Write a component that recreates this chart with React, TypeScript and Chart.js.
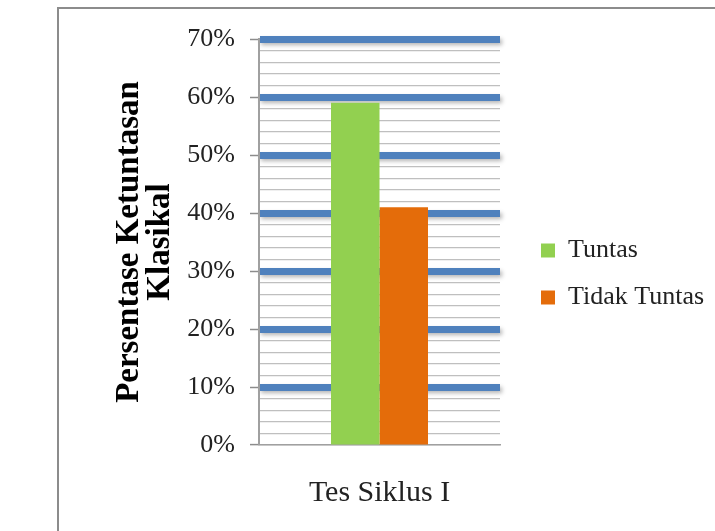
import React, { useEffect, useRef } from 'react';
import { Chart, registerables } from 'chart.js';

Chart.register(...registerables);

const categories = ['Tes Siklus I'];
const seriesNames = ['Tuntas', 'Tidak Tuntas'];
const tuntasValues = [59];
const tidakTuntasValues = [41];
const yMajorTicks = [0, 10, 20, 30, 40, 50, 60, 70];

const FONT = "'Liberation Serif', 'Times New Roman', serif";

export default function App() {
  const ref = useRef<HTMLCanvasElement | null>(null);

  useEffect(() => {
    document.body.style.margin = '0';
    const canvas = ref.current;
    if (!canvas) return;
    let chart: any = null;
    let cancelled = false;

    const shadowPlugin = {
      id: 'gridShadow',
      beforeDraw(c: any) {
        const y = c.scales.y;
        const { left, right } = c.chartArea;
        const ctx = c.ctx;
        ctx.save();
        ctx.filter = 'blur(2px)';
        ctx.strokeStyle = 'rgba(0,0,0,0.30)';
        ctx.lineWidth = 6;
        yMajorTicks.filter((v) => v > 0).forEach((v) => {
          const p = y.getPixelForValue(v) + 3;
          ctx.beginPath();
          ctx.moveTo(left + 2, p);
          ctx.lineTo(right + 2, p);
          ctx.stroke();
        });
        ctx.restore();
      },
    };

    const legendPlace = {
      id: 'legendPlace',
      beforeLayout(c: any) {
        const l = c.legend;
        if (!l || l.__patched) return;
        const orig = l.fit;
        l.fit = function () {
          orig.call(this);
          this.width = 215;
        };
        l.__patched = true;
      },
      afterLayout(c: any) {
        const l = c.legend;
        if (!l) return;
        l.left = 520;
        l.right = 735;
        l.top = 71;
        l.bottom = 477;
      },
    };

    const isMajor = (c: any) => c.tick && c.tick.value % 10 === 0;

    const build = () => {
      if (cancelled) return;
      chart = new Chart(canvas, {
        type: 'bar',
        data: {
          labels: categories,
          datasets: [
            {
              label: seriesNames[0],
              data: tuntasValues,
              backgroundColor: '#92D050',
              borderWidth: 0,
              categoryPercentage: 0.4025,
              barPercentage: 1,
            },
            {
              label: seriesNames[1],
              data: tidakTuntasValues,
              backgroundColor: '#E46C0A',
              borderWidth: 0,
              categoryPercentage: 0.4025,
              barPercentage: 1,
            },
          ],
        },
        options: {
          responsive: false,
          animation: false,
          events: [],
          layout: { padding: { top: 39, right: 0, left: 0, bottom: 0 } },
          plugins: {
            tooltip: { enabled: false },
            title: { display: false },
            legend: {
              position: 'right',
              labels: {
                boxWidth: 14,
                boxHeight: 14,
                padding: 21,
                color: '#222',
                font: { family: FONT, size: 26 },
              },
            },
          },
          scales: {
            x: {
              type: 'category',
              grid: { display: false, drawTicks: false },
              border: { display: true, color: '#A0A0A0', width: 1.5 },
              ticks: {
                color: '#222',
                padding: 30,
                font: { family: FONT, size: 30 },
              },
              afterFit(s: any) {
                s.height = 86;
              },
            },
            y: {
              min: 0,
              max: 70,
              ticks: {
                stepSize: 2,
                autoSkip: false,
                padding: 15,
                color: '#222',
                font: { family: FONT, size: 26 },
                callback: (v: any) => (Number(v) % 10 === 0 ? v + '%' : ''),
              },
              grid: {
                drawTicks: true,
                tickLength: 9,
                tickWidth: 1.5,
                tickColor: (c: any) => (isMajor(c) ? '#8C8C8C' : 'rgba(0,0,0,0)'),
                color: (c: any) =>
                  isMajor(c) && c.tick.value > 0 ? '#4F81BD' : '#BFBFBF',
                lineWidth: (c: any) => (isMajor(c) && c.tick.value > 0 ? 7 : 1.2),
              },
              border: { display: true, color: '#A0A0A0', width: 2 },
              title: {
                display: true,
                text: ['Persentase Ketuntasan', 'Klasikal'],
                color: '#000',
                font: { family: FONT, size: 33, weight: 'bold', lineHeight: 0.94 },
                padding: { top: 114, bottom: 0 },
              },
              afterFit(s: any) {
                s.width = 259;
              },
            },
          },
        },
        plugins: [shadowPlugin, legendPlace],
      } as any);
    };

    const fontsApi: any = (document as any).fonts;
    if (fontsApi && fontsApi.load) {
      Promise.all([
        fontsApi.load("26px 'Liberation Serif'"),
        fontsApi.load("bold 33px 'Liberation Serif'"),
      ])
        .catch(() => null)
        .then(build);
    } else {
      build();
    }

    return () => {
      cancelled = true;
      if (chart) chart.destroy();
    };
  }, []);

  return (
    <div
      style={{
        position: 'fixed',
        left: 0,
        top: 0,
        width: 715,
        height: 531,
        overflow: 'hidden',
        background: '#fff',
      }}
    >
      <canvas ref={ref} width={715} height={531} style={{ display: 'block' }} />
      <div
        style={{
          position: 'absolute',
          left: 57,
          top: 7,
          width: 800,
          height: 800,
          border: '2px solid #8C8C8C',
          pointerEvents: 'none',
        }}
      />
    </div>
  );
}
